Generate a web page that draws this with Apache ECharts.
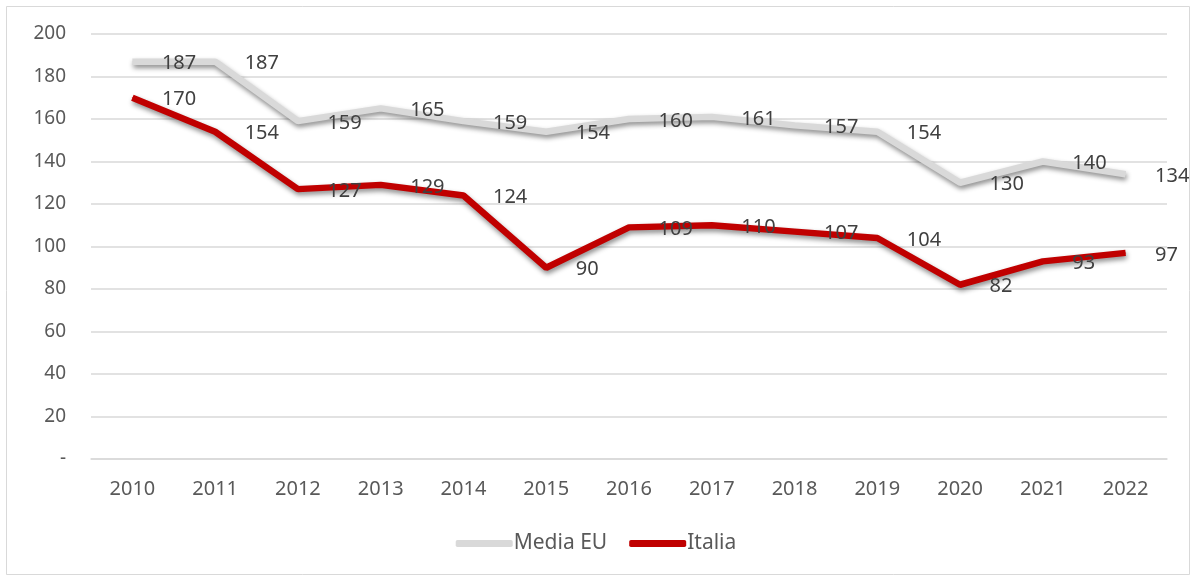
<!DOCTYPE html>
<html><head><meta charset="utf-8">
<script src="https://cdn.jsdelivr.net/npm/echarts@6/dist/echarts.min.js"></script>
<style>html,body{margin:0;padding:0;background:#fff}#c{width:1192px;height:576px}</style>
</head><body><div id="c"></div>
<script>
const years = ['2010','2011','2012','2013','2014','2015','2016','2017','2018','2019','2020','2021','2022'];
const mediaEU = [187,187,159,165,159,154,160,161,157,154,130,140,134];
const italia = [170,154,127,129,124,90,109,110,107,104,82,93,97];
const yTicks = {min:0, max:200, interval:20};

const FONT = '"Noto Sans", "Liberation Sans", sans-serif';
const TXT = '#595959';
const chart = echarts.init(document.getElementById('c'), null, {renderer:'canvas'});
const lbl = {show:true, position:'right', distance:29, offset:[0,2], color:'#404040', fontSize:20, fontFamily:FONT};
chart.setOption({
  animation:false,
  backgroundColor:'#fff',
  graphic:[{type:'rect', shape:{x:6.5,y:6.5,width:1183,height:568}, style:{fill:'none', stroke:'#d9d9d9', lineWidth:1}, silent:true}],
  grid:{left:91, right:25, top:34, bottom:117},
  legend:{bottom:17, left:'center', itemWidth:57, itemHeight:7, itemGap:22,
    textStyle:{color:TXT, fontSize:21, fontFamily:FONT, padding:[0,0,0,-4]},
    data:[{name:'Media EU', icon:'roundRect'},{name:'Italia', icon:'roundRect'}]},
  xAxis:{type:'category', data:years, boundaryGap:true,
    axisLine:{show:true, lineStyle:{color:'#d9d9d9', width:1.5}}, axisTick:{show:false},
    axisLabel:{color:TXT, fontSize:20, fontFamily:FONT, margin:20}},
  yAxis:{type:'value', min:yTicks.min, max:yTicks.max, interval:yTicks.interval,
    axisLine:{show:false}, axisTick:{show:false},
    splitLine:{lineStyle:{color:'#d9d9d9', width:1.5}},
    axisLabel:{color:TXT, fontSize:19, fontFamily:FONT, margin:25, formatter:v=>v===0?'-':String(v)}},
  series:[
    {name:'Media EU', type:'line', data:mediaEU, symbol:'circle', symbolSize:1, showSymbol:true,
      itemStyle:{color:'#d9d9d9'},
      lineStyle:{color:'#d9d9d9', width:6.5, shadowColor:'rgba(0,0,0,0.45)', shadowBlur:5, shadowOffsetX:1, shadowOffsetY:3},
      label:lbl, z:2},
    {name:'Italia', type:'line', data:italia, symbol:'circle', symbolSize:1, showSymbol:true,
      itemStyle:{color:'#c00000'},
      lineStyle:{color:'#c00000', width:6.5, shadowColor:'rgba(0,0,0,0.45)', shadowBlur:5, shadowOffsetX:1, shadowOffsetY:3},
      label:lbl, z:3}
  ]
});
</script></body></html>
